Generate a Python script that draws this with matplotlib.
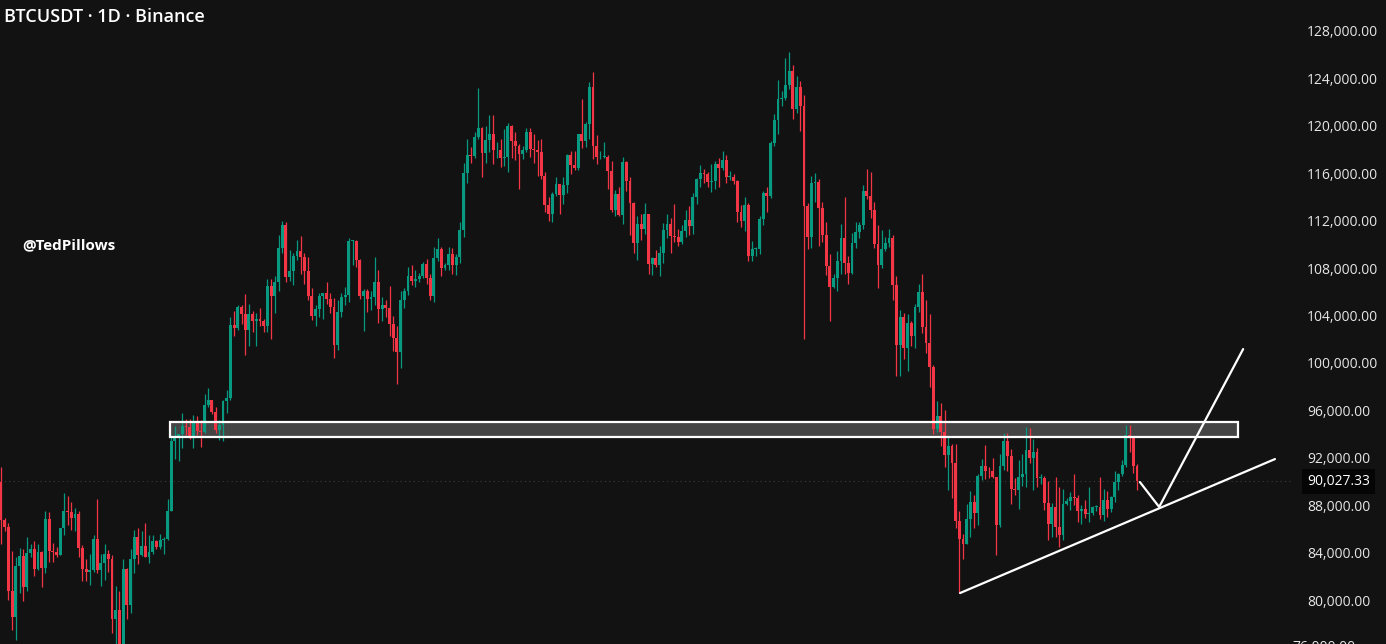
import numpy as np
import matplotlib
matplotlib.use("Agg")
import matplotlib.pyplot as plt
from matplotlib.patches import Rectangle
from matplotlib.ticker import FixedLocator, FuncFormatter

# BTCUSDT daily candles, 7 Mar 2025 -> 8 Jan 2026, prices in thousands of USDT
# Binance trades 24/7 so each open is the previous close
first_open = 89.96

closes = [
    # Mar
    86.74, 86.15, 80.73, 78.53, 82.86, 83.72, 81.07, 83.97, 84.34, 82.58, 84.01, 82.72, 86.85,
    84.17, 84.04, 83.83, 86.05, 87.50, 87.42, 86.90, 87.23, 84.35, 82.60, 82.33, 82.55,
    # Apr
    85.16, 82.52, 83.10, 83.84, 83.50, 78.37, 79.14, 76.27, 82.62, 79.61, 83.42, 85.28, 83.76,
    84.54, 83.63, 84.03, 84.94, 84.45, 85.06, 85.17, 87.52, 93.44, 93.70, 93.98, 94.64, 94.63,
    93.75, 94.98, 94.28, 94.17,
    # May
    96.49, 96.91, 95.89, 94.32, 94.75, 96.83, 97.03, 103.24, 102.97, 104.70, 104.12, 102.79,
    104.14, 103.51, 103.74, 103.56, 103.13, 106.45, 105.61, 106.83, 109.67, 111.67, 107.29,
    107.79, 109.03, 109.44, 108.94, 107.78, 105.64, 103.98, 104.59,
    # Jun
    105.64, 105.88, 105.43, 104.70, 101.51, 104.29, 105.60, 105.73, 110.26, 110.27, 108.65,
    105.67, 106.07, 105.41, 105.59, 106.79, 104.55, 104.88, 104.63, 103.30, 102.12, 100.96,
    105.33, 106.08, 107.32, 106.95, 107.10, 107.32, 108.36, 107.14,
    # Jul
    105.68, 108.85, 109.58, 107.98, 108.22, 109.20, 108.26, 108.92, 111.23, 115.99, 117.52,
    117.42, 119.09, 119.84, 117.68, 118.78, 119.29, 117.92, 117.99, 117.27, 117.38, 119.95,
    118.76, 118.34, 117.61, 117.92, 119.45, 118.06, 117.92, 117.83, 115.76,
    # Aug
    113.30, 112.55, 114.22, 115.07, 114.13, 115.03, 117.50, 116.67, 116.46, 119.29, 118.69,
    120.13, 123.31, 118.30, 117.34, 117.38, 117.41, 116.23, 112.87, 114.27, 112.50, 116.94,
    115.37, 113.49, 110.11, 111.76, 111.26, 112.57, 108.38, 108.82, 108.25,
    # Sep
    109.24, 111.24, 111.71, 110.73, 110.66, 110.19, 111.14, 112.07, 111.55, 113.96, 115.50,
    116.06, 115.95, 115.27, 115.35, 116.79, 116.47, 117.14, 115.69, 115.72, 115.31, 112.75,
    112.01, 113.33, 109.05, 109.64, 109.64, 112.16, 114.31, 114.05,
    # Oct
    118.59, 120.53, 122.27, 122.39, 123.48, 124.66, 121.45, 123.31, 121.66, 113.21, 110.64,
    115.17, 115.27, 113.03, 110.76, 108.19, 106.43, 107.19, 108.64, 110.53, 108.40, 107.60,
    110.08, 111.03, 111.64, 114.53, 114.12, 112.90, 110.05, 108.30, 109.61,
    # Nov
    110.10, 110.54, 106.58, 101.50, 103.89, 101.30, 103.37, 102.28, 104.72, 105.99, 103.05,
    101.65, 99.69, 94.40, 95.55, 94.18, 92.22, 92.96, 91.55, 86.64, 85.13, 84.74, 86.83,
    88.30, 87.37, 90.48, 91.33, 90.91, 90.85, 90.39,
    # Dec
    86.32, 91.28, 93.45, 92.13, 89.39, 89.27, 90.41, 90.63, 92.69, 92.02, 92.51, 90.27, 90.30,
    88.17, 86.43, 87.84, 86.14, 85.52, 88.14, 88.36, 88.66, 88.62, 87.49, 87.67, 87.25, 87.30,
    87.83, 87.84, 87.14, 88.43, 87.65,
    # Jan
    88.73, 89.94, 90.60, 91.41, 93.88, 93.74, 91.28, 90.03,
]

highs = [
    91.2, 86.9, 86.5, 84.1, 83.6, 84.4, 84.3, 85.3, 84.7, 85.0, 84.7, 84.1, 87.5,
    87.4, 84.8, 84.5, 86.1, 89.0, 88.8, 88.3, 87.8, 87.5, 84.6, 83.5, 83.9,
    85.5, 88.5, 83.9, 84.7, 84.2, 83.8, 81.2, 80.8, 83.5, 82.7, 84.3, 85.9, 86.1,
    85.8, 86.5, 85.5, 85.5, 85.1, 85.6, 85.3, 88.5, 93.9, 94.7, 94.0, 95.8, 95.3,
    95.3, 95.6, 95.5, 95.2,
    97.4, 97.9, 96.9, 96.3, 95.2, 96.9, 97.7, 103.9, 104.4, 104.9, 104.9, 105.8,
    105.0, 104.4, 104.2, 104.6, 103.7, 107.1, 107.1, 107.3, 110.8, 112.0, 111.9,
    109.5, 109.3, 110.4, 110.7, 109.3, 108.9, 106.3, 104.9,
    105.9, 105.9, 106.8, 105.9, 105.5, 105.3, 105.9, 106.4, 110.5, 110.4, 110.4,
    108.8, 106.2, 106.2, 106.1, 108.9, 107.8, 105.6, 105.3, 106.5, 104.0, 103.1,
    106.1, 106.3, 108.1, 108.3, 107.8, 107.6, 108.5, 108.8,
    107.5, 109.8, 110.5, 109.8, 108.4, 109.8, 109.7, 109.2, 111.9, 116.9, 118.9,
    118.2, 119.5, 123.2, 119.9, 120.0, 120.9, 120.9, 118.6, 118.9, 119.7, 120.2,
    120.1, 119.5, 118.5, 118.3, 119.8, 119.8, 119.3, 118.8, 118.9,
    116.1, 114.0, 114.4, 115.7, 115.1, 115.7, 117.6, 117.9, 117.9, 119.3, 122.3,
    120.3, 123.7, 124.5, 119.2, 117.9, 118.6, 117.5, 117.0, 114.6, 114.8, 117.4,
    117.0, 115.7, 113.6, 112.4, 112.6, 113.5, 112.6, 108.9, 109.5,
    109.9, 111.8, 112.6, 112.2, 113.4, 111.3, 111.6, 112.9, 113.2, 114.3, 115.6,
    116.7, 116.4, 116.1, 116.8, 117.0, 117.3, 117.9, 117.5, 116.2, 115.9, 115.4,
    113.3, 114.0, 113.5, 110.3, 109.8, 112.4, 114.5, 114.8,
    118.7, 121.0, 123.9, 122.9, 125.7, 126.2, 125.1, 124.2, 123.8, 122.6, 113.5,
    115.8, 116.0, 115.5, 113.6, 111.9, 109.2, 107.5, 109.4, 111.7, 114.0, 109.0,
    111.0, 111.9, 111.9, 115.0, 116.4, 116.1, 113.6, 111.6, 111.2,
    110.6, 111.3, 110.8, 107.3, 104.5, 104.2, 104.1, 103.5, 105.0, 106.7, 107.5,
    105.3, 104.1, 99.8, 96.8, 96.6, 96.0, 93.8, 93.2, 93.2, 87.5, 85.6, 88.1,
    89.2, 88.9, 90.6, 91.9, 93.1, 91.2, 92.0,
    90.4, 92.3, 94.1, 94.1, 92.7, 90.3, 91.8, 92.3, 94.6, 94.5, 93.6, 92.8, 90.6,
    90.5, 90.0, 88.2, 90.4, 89.5, 89.4, 88.6, 89.1, 90.6, 88.9, 88.0, 88.4, 89.5,
    87.9, 88.0, 90.4, 89.4, 89.2,
    88.8, 90.9, 90.7, 91.8, 94.8, 94.8, 93.8, 91.5,
]

lows = [
    84.7, 85.8, 80.0, 77.5, 76.6, 80.6, 79.9, 80.8, 83.6, 82.0, 82.5, 81.1, 82.3,
    83.2, 83.2, 83.6, 83.8, 85.5, 86.3, 85.9, 85.8, 83.6, 81.6, 81.6, 81.3,
    82.4, 82.3, 81.2, 81.7, 82.4, 77.2, 74.5, 76.2, 74.6, 78.4, 78.9, 82.3, 83.0,
    83.7, 83.6, 83.1, 83.9, 84.3, 84.3, 83.9, 85.1, 87.5, 91.9, 91.7, 92.8, 93.9,
    93.6, 92.8, 93.9, 92.9,
    94.1, 96.3, 95.7, 94.1, 93.5, 93.4, 95.8, 96.9, 102.3, 102.8, 103.3, 100.7,
    101.4, 102.6, 101.4, 103.1, 102.6, 102.6, 102.0, 104.2, 106.1, 109.3, 106.8,
    106.9, 106.6, 108.7, 107.5, 106.7, 105.3, 103.6, 103.1,
    103.9, 103.7, 105.0, 104.2, 100.4, 101.1, 103.9, 104.9, 105.1, 108.3, 108.1,
    105.4, 102.7, 104.3, 104.5, 104.9, 103.4, 103.5, 103.9, 102.3, 101.0, 98.2,
    99.6, 104.6, 105.7, 106.6, 106.4, 106.8, 107.2, 106.7,
    105.3, 105.1, 108.6, 107.3, 107.8, 107.8, 107.5, 107.4, 108.4, 110.6, 115.2,
    116.9, 117.3, 118.9, 115.7, 116.9, 117.8, 116.8, 117.3, 116.5, 116.6, 116.1,
    117.3, 117.1, 114.7, 117.2, 117.8, 117.4, 116.9, 115.8, 115.5,
    112.7, 112.0, 111.9, 114.1, 112.6, 113.4, 114.3, 115.9, 116.3, 116.3, 118.1,
    118.2, 118.9, 117.2, 116.8, 117.2, 117.3, 114.7, 112.7, 112.4, 112.4, 111.7,
    114.5, 110.8, 109.3, 108.7, 110.4, 110.9, 107.5, 107.4, 108.1,
    107.3, 108.4, 110.5, 109.3, 110.2, 109.9, 110.0, 110.6, 110.8, 110.9, 113.4,
    114.8, 115.2, 114.8, 114.4, 114.7, 114.8, 116.3, 115.2, 115.4, 115.1, 111.9,
    111.5, 111.1, 108.6, 108.6, 109.0, 109.2, 111.6, 112.7,
    113.9, 118.3, 119.3, 121.7, 122.2, 123.1, 120.6, 121.1, 119.6, 102.0, 109.6,
    109.7, 113.6, 109.9, 110.2, 107.4, 103.5, 106.3, 106.1, 107.5, 107.5, 106.7,
    107.5, 109.7, 110.5, 111.3, 113.8, 112.2, 109.7, 106.3, 108.0,
    109.4, 109.8, 105.3, 98.9, 98.9, 100.3, 99.3, 101.4, 101.3, 104.3, 102.5,
    100.8, 98.0, 94.0, 94.2, 93.0, 91.2, 89.3, 88.6, 86.1, 80.6, 83.5, 84.7,
    85.3, 86.1, 86.3, 90.1, 90.2, 90.3, 90.3,
    83.8, 86.2, 91.0, 90.9, 88.1, 88.9, 87.7, 89.6, 89.5, 91.6, 89.3, 89.5, 89.8,
    87.6, 85.1, 85.3, 85.3, 84.5, 85.1, 88.0, 87.6, 88.0, 86.6, 86.4, 86.9, 86.6,
    87.2, 87.5, 86.8, 86.7, 87.0,
    87.4, 88.3, 89.3, 90.5, 91.2, 92.5, 90.7, 89.3,
]

last_price = 90.02733
price_ticks = [80, 84, 88, 92, 96, 100, 104, 108, 112, 116, 120, 124, 128]

# drawings on the chart (candle index, price in thousands)
zone_x = (45.7, 334.3)
zone_y = (93.75, 95.0)
support_x = [259.2, 344.3]
support_y = [80.59, 91.89]
path_x = [307.8, 313.0, 335.7]
path_y = [89.95, 87.85, 101.17]

bg = "#121212"
up_col = "#089981"
down_col = "#f23645"

c = np.array(closes)
o = np.array([first_open] + closes[:-1])
h = np.array(highs)
l = np.array(lows)
idx = np.arange(len(c))
col = np.where(c >= o, up_col, down_col)

fig = plt.figure(figsize=(13.86, 6.44), dpi=100, facecolor=bg)
ax = fig.add_axes([0, 0, 1292 / 1386, 1])
ax.set_facecolor(bg)

# zone fill under the candles, outline above
ax.add_patch(Rectangle((zone_x[0], zone_y[0]), zone_x[1] - zone_x[0], zone_y[1] - zone_y[0],
                       facecolor="#454545", edgecolor="none", zorder=1))

ax.vlines(idx, l, h, colors=col, linewidth=0.9, zorder=2)
body = np.maximum(np.abs(c - o), 0.07)
ax.bar(idx, body, bottom=np.minimum(o, c), width=0.78, color=col, linewidth=0, zorder=3)

ax.add_patch(Rectangle((zone_x[0], zone_y[0]), zone_x[1] - zone_x[0], zone_y[1] - zone_y[0],
                       facecolor="none", edgecolor="white", linewidth=1.6, zorder=4))

ax.plot(support_x, support_y, color="white", linewidth=1.6, zorder=5, solid_capstyle="round")
ax.plot(path_x, path_y, color="white", linewidth=1.6, zorder=5, solid_capstyle="round")

# last price line
ax.axhline(last_price, color="#3c3c3c", linewidth=0.8, linestyle=(0, (1, 3)), zorder=0.5)

ax.set_xlim(-0.27, 348.9)
ax.set_ylim(76.29, 130.615)

for s in ax.spines.values():
    s.set_visible(False)
ax.set_xticks([])
ax.yaxis.tick_right()
ax.yaxis.set_major_locator(FixedLocator(price_ticks))
ax.yaxis.set_major_formatter(FuncFormatter(lambda v, p: f"{v * 1000:,.2f}"))
ax.tick_params(axis="y", length=0, pad=11, labelsize=10, labelcolor="#e6e6e6")
for t in ax.get_yticklabels():
    t.set_fontfamily("Open Sans")

# partially hidden label at the bottom edge, as in the screenshot
ax.text(1.0, 76, "76,000.00", transform=ax.get_yaxis_transform(), clip_on=False,
        ha="left", va="center", fontsize=10, color="#e6e6e6", family="Open Sans")
ax.annotate(f"{last_price * 1000:,.2f}", xy=(1.0, last_price), xycoords=ax.get_yaxis_transform(),
            xytext=(11, 0), textcoords="offset points", ha="left", va="center",
            fontsize=10, color="white", family="Open Sans", annotation_clip=False,
            bbox=dict(boxstyle="square,pad=0.35", fc="#050505", ec="none"))

fig.text(4 / 1386, 1 - 17 / 644, "BTCUSDT · 1D · Binance", ha="left", va="center",
         fontsize=13, fontweight="semibold", color="white", family="Open Sans")
fig.text(22 / 1386, 1 - 245 / 644, "@TedPillows", ha="left", va="center",
         fontsize=11, fontweight="bold", color="white", family="Open Sans")

fig.savefig("out.png", dpi=100, facecolor=bg)
